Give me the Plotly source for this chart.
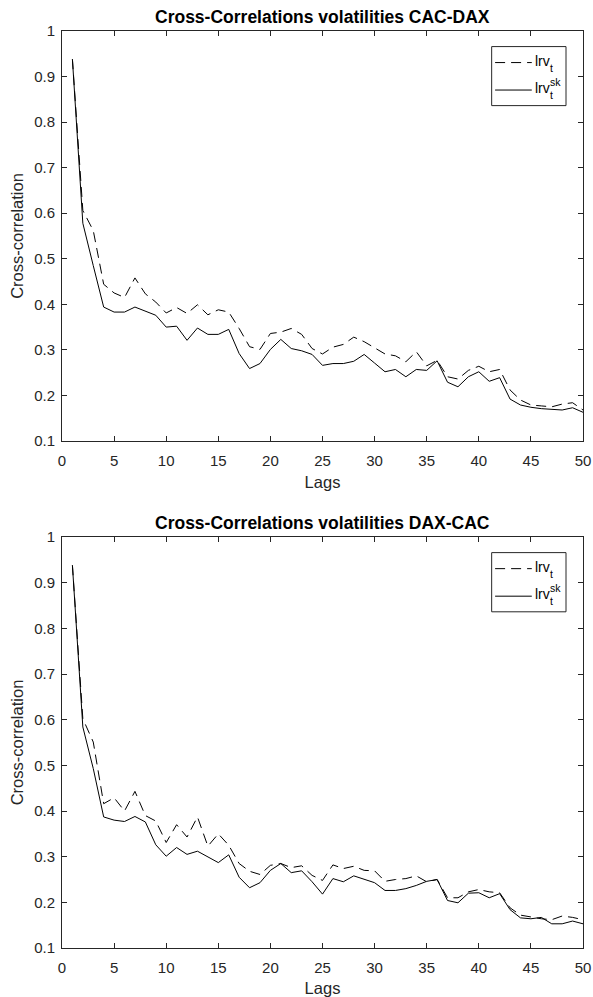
import plotly.graph_objects as go

lags = list(range(1, 51))

cac_dax_lrv = [0.938, 0.606, 0.562, 0.444, 0.425, 0.415, 0.458, 0.423, 0.405, 0.381,
               0.393, 0.380, 0.399, 0.377, 0.388, 0.383, 0.347, 0.307, 0.301, 0.336,
               0.339, 0.347, 0.334, 0.303, 0.291, 0.306, 0.312, 0.328, 0.318, 0.305,
               0.291, 0.287, 0.274, 0.296, 0.265, 0.277, 0.241, 0.236, 0.255, 0.264,
               0.252, 0.257, 0.212, 0.190, 0.179, 0.177, 0.175, 0.181, 0.184, 0.168]
cac_dax_sk = [0.938, 0.578, 0.485, 0.394, 0.383, 0.383, 0.394, 0.385, 0.376, 0.350,
              0.352, 0.321, 0.348, 0.334, 0.334, 0.345, 0.292, 0.259, 0.270, 0.301,
              0.323, 0.303, 0.298, 0.290, 0.266, 0.270, 0.270, 0.275, 0.290, 0.271,
              0.252, 0.257, 0.241, 0.257, 0.255, 0.276, 0.229, 0.219, 0.241, 0.252,
              0.231, 0.239, 0.192, 0.179, 0.174, 0.171, 0.169, 0.168, 0.173, 0.163]
dax_cac_lrv = [0.938, 0.602, 0.551, 0.416, 0.429, 0.400, 0.443, 0.390, 0.378, 0.331,
               0.370, 0.343, 0.387, 0.323, 0.350, 0.325, 0.285, 0.268, 0.261, 0.281,
               0.285, 0.276, 0.280, 0.259, 0.248, 0.282, 0.274, 0.279, 0.270, 0.269,
               0.246, 0.250, 0.252, 0.258, 0.245, 0.250, 0.210, 0.210, 0.223, 0.228,
               0.223, 0.221, 0.188, 0.172, 0.168, 0.164, 0.162, 0.170, 0.167, 0.162]
dax_cac_sk = [0.938, 0.584, 0.493, 0.387, 0.380, 0.377, 0.388, 0.376, 0.326, 0.301,
              0.320, 0.305, 0.312, 0.299, 0.287, 0.304, 0.255, 0.232, 0.243, 0.270,
              0.285, 0.265, 0.269, 0.245, 0.218, 0.252, 0.245, 0.258, 0.250, 0.243,
              0.226, 0.226, 0.230, 0.237, 0.246, 0.250, 0.204, 0.199, 0.220, 0.221,
              0.210, 0.219, 0.184, 0.166, 0.164, 0.167, 0.153, 0.153, 0.159, 0.153]

titles = ["Cross-Correlations volatilities CAC-DAX", "Cross-Correlations volatilities DAX-CAC"]
x_title = "Lags"
y_title = "Cross-correlation"

FONT = "Liberation Sans, Arial, Helvetica, sans-serif"
AX = "#262626"
DASH = "10px,6px"

fig = go.Figure()
pairs = [(cac_dax_lrv, cac_dax_sk, "x", "y"), (dax_cac_lrv, dax_cac_sk, "x2", "y2")]
for lrv, sk, xa, ya in pairs:
    fig.add_trace(go.Scatter(x=lags, y=lrv, mode="lines", xaxis=xa, yaxis=ya,
                             line=dict(color="black", width=1, dash=DASH),
                             showlegend=False, name="lrv_t"))
    fig.add_trace(go.Scatter(x=lags, y=sk, mode="lines", xaxis=xa, yaxis=ya,
                             line=dict(color="black", width=1),
                             showlegend=False, name="lrv_t^sk"))

axis_common = dict(showline=True, mirror="ticks", ticks="inside", ticklen=5,
                   linecolor=AX, tickcolor=AX, linewidth=1, showgrid=False,
                   zeroline=False, tickfont=dict(family=FONT, size=15, color=AX))

fig.update_layout(
    width=593, height=997,
    margin=dict(l=62, r=10, t=31, b=49, autoexpand=False),
    paper_bgcolor="white", plot_bgcolor="white",
    font=dict(family=FONT, color=AX),
    xaxis=dict(domain=[0, 1], anchor="y", range=[0, 50], dtick=5, tick0=0,
               ticklabelstandoff=6,
               title=dict(text=x_title, font=dict(size=16.5, color=AX), standoff=8),
               **axis_common),
    yaxis=dict(domain=[0.5529, 1], anchor="x", range=[0.1, 1], dtick=0.1, tick0=0,
               ticklabelstandoff=3,
               title=dict(text=y_title, font=dict(size=16.5, color=AX), standoff=6),
               **axis_common),
    xaxis2=dict(domain=[0, 1], anchor="y2", range=[0, 50], dtick=5, tick0=0,
                ticklabelstandoff=6,
                title=dict(text=x_title, font=dict(size=16.5, color=AX), standoff=8),
                **axis_common),
    yaxis2=dict(domain=[0, 0.4482], anchor="x2", range=[0.1, 1], dtick=0.1, tick0=0,
                ticklabelstandoff=3,
                title=dict(text=y_title, font=dict(size=16.5, color=AX), standoff=6),
                **axis_common),
)

annotations = []
shapes = []
for i, (xa, ya) in enumerate([("x", "y"), ("x2", "y2")]):
    xd, yd = xa + " domain", ya + " domain"
    annotations.append(dict(text="<b>" + titles[i] + "</b>", xref=xd, yref=yd,
                            x=0.5, y=1, xanchor="center", yanchor="bottom", yshift=2,
                            showarrow=False, font=dict(family=FONT, size=17.5, color="black")))
    # manual legend box
    shapes.append(dict(type="rect", xref=xd, yref=yd, x0=0.8247, x1=0.9674,
                       y0=0.818, y1=0.962, line=dict(color=AX, width=1),
                       fillcolor="white", layer="above"))
    # legend samples
    shapes.append(dict(type="line", xref=xd, yref=yd, x0=0.8313, x1=0.9017,
                       y0=0.923, y1=0.923, line=dict(color="black", width=1, dash=DASH)))
    shapes.append(dict(type="line", xref=xd, yref=yd, x0=0.8313, x1=0.9017,
                       y0=0.856, y1=0.856, line=dict(color="black", width=1)))
    for yy, sup in [(0.923, None), (0.856, "sk")]:
        annotations.append(dict(text="lrv", xref=xd, yref=yd, x=0.9045, y=yy,
                                xanchor="left", yanchor="middle", yshift=2, showarrow=False,
                                font=dict(family=FONT, size=14, color="black")))
        annotations.append(dict(text="t", xref=xd, yref=yd, x=0.9045, y=yy,
                                xanchor="left", yanchor="middle", xshift=15, yshift=-5,
                                showarrow=False, font=dict(family=FONT, size=10.5, color="black")))
        if sup:
            annotations.append(dict(text=sup, xref=xd, yref=yd, x=0.9045, y=yy,
                                    xanchor="left", yanchor="middle", xshift=15, yshift=8,
                                    showarrow=False, font=dict(family=FONT, size=10.5, color="black")))
fig.update_layout(annotations=annotations, shapes=shapes)

fig.write_html("out.html")
